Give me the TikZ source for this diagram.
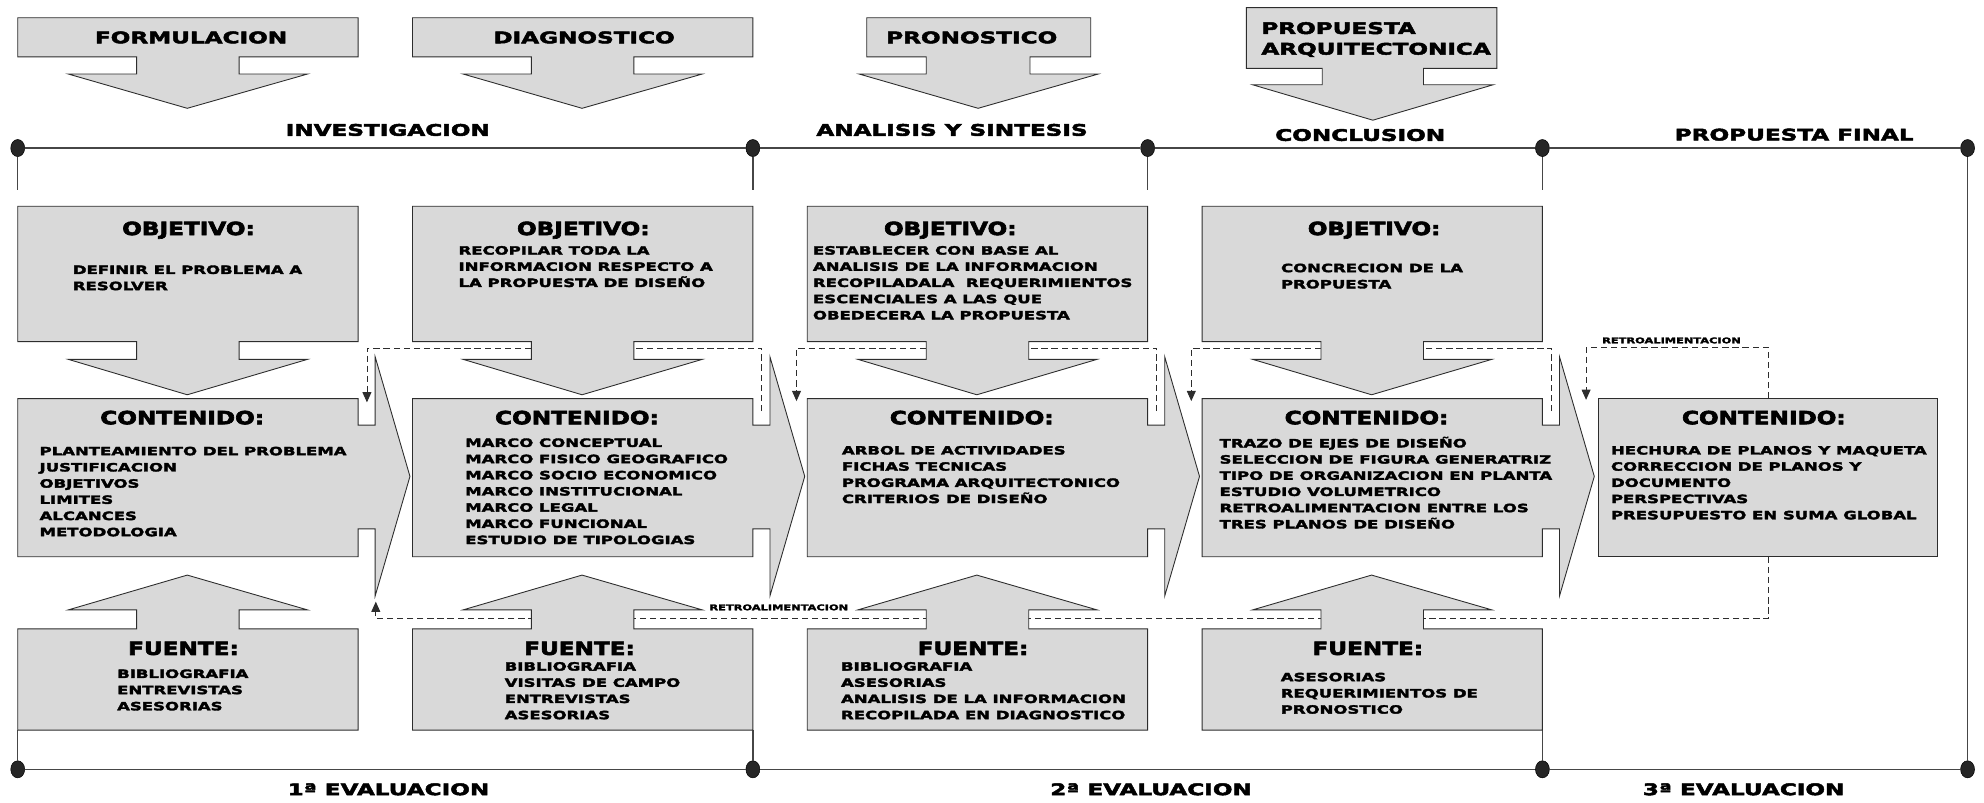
\documentclass[tikz,border=0pt]{standalone}
\usepackage{fontspec}
\usepackage{tikz}
\usetikzlibrary{calc, shapes.geometric, arrows.meta}

\newfontfamily\itemfont{DejaVu Sans Bold}[FakeStretch=1.45, FakeBold=3]
\newfontfamily\titlefont{DejaVu Sans Bold}[FakeStretch=1.27, FakeBold=3.5]
\definecolor{boxgray}{RGB}{217,217,217}
\definecolor{edge}{RGB}{45,45,45}
\definecolor{axisgray}{RGB}{70,70,70}

\begin{document}
\begin{tikzpicture}[x=1pt, y=-1pt,
        box/.style={fill=boxgray, draw=edge, line width=0.7pt},
        item/.style={anchor=north west, inner sep=0pt, align=left, font=\itemfont\fontsize{9}{12.8}\selectfont},
        head/.style={anchor=base, inner sep=0pt, font=\titlefont\fontsize{14.4}{16}\selectfont},
        phase/.style={anchor=base, inner sep=0pt, font=\itemfont\fontsize{12.6}{16.3}\selectfont},
        note/.style={anchor=base, inner sep=0pt, font=\itemfont\fontsize{6.2}{7}\selectfont},
        axis/.style={draw=axisgray, line width=1.1pt},
        dot/.style={ellipse, fill=black!85, draw=black, minimum width=11pt, minimum height=13.5pt, inner sep=0pt},
        feedback/.style={draw=edge, dash pattern=on 5pt off 3pt, line width=0.7pt, -{Triangle[length=8pt, width=7pt]}},
        ]
    \useasboundingbox (0,0) rectangle (1568,634);

    % feedback lines, under the boxes
    \coordinate (fbA) at (602,325);    \coordinate (inA) at (290,318);
    \coordinate (fbB) at (914,325);    \coordinate (inB) at (629.5,317);
    \coordinate (fbC) at (1226,325);   \coordinate (inC) at (941.5,317);
    \coordinate (fbD) at (1397.6,315); \coordinate (inD) at (1253.5,316);
    \coordinate (fbE) at (1397.6,440); \coordinate (inE) at (297,475.5);

    \draw [feedback] (fbA) -- ++(0,-50) -| (inA);
    \draw [feedback] (fbB) -- ++(0,-50) -| (inB);
    \draw [feedback] (fbC) -- ++(0,-50) -| (inC);
    \draw [feedback] (fbD) -- ++(0,-40.5) -| (inD);
    \draw [feedback] (fbE) -- ++(0,49) -| (inE);

    \node (retro1) at (1321,271.3) [note] {RETROALIMENTACION};
    \node (retro2) at (615.5,482.3) [note] {RETROALIMENTACION};

    % phase headers
    \draw [box, shift={(14,0)}] (0,14) -- (269,14) -- (269,45) -- (175,45) -- (175,58.5) -- (229,58.5) -- (134,85.6) -- (40,58.5) -- (94,58.5) -- (94,45) -- (0,45) -- cycle;
    \draw [box, shift={(326,0)}] (0,14) -- (269,14) -- (269,45) -- (175,45) -- (175,58.5) -- (229,58.5) -- (134,85.6) -- (40,58.5) -- (94,58.5) -- (94,45) -- (0,45) -- cycle;
    \draw [box] (685,14) -- (862,14) -- (862,45) -- (814,45) -- (814,58.5) -- (868,58.5) -- (773,85.6) -- (679,58.5) -- (732,58.5) -- (732,45) -- (685,45) -- cycle;
    \draw [box] (985,6) -- (1183,6) -- (1183,54) -- (1125,54) -- (1125,67) -- (1180,67) -- (1085,95) -- (990,67) -- (1045,67) -- (1045,54) -- (985,54) -- cycle;

    \node (formulacion) at (151,34.2) [phase] {FORMULACION};
    \node (diagnostico) at (461.6,34.2) [phase] {DIAGNOSTICO};
    \node (pronostico) at (768,34.2) [phase] {PRONOSTICO};
    \node (propuesta) at (996.7,17.3) [phase, anchor=north west, align=left] {PROPUESTA\\ARQUITECTONICA};

    % time line
    \node (T1) at (14,117) [dot] {};
    \node (T2) at (595,117) [dot] {};
    \node (T3) at (907,117) [dot] {};
    \node (T4) at (1219,117) [dot] {};
    \node (T5) at (1555,117) [dot] {};
    \node (B1) at (14,608) [dot] {};
    \node (B2) at (595,608) [dot] {};
    \node (B4) at (1219,608) [dot] {};
    \node (B5) at (1555,608) [dot] {};

    \draw [axis] (T1) -- (T2) -- (T3) -- (T4) -- (T5) -- (B5);
    \draw [axis] (B1) -- (B2) -- (B4) -- (B5);
    \draw [axis] (T1) -- ++(0,33);
    \draw [axis] (T2) -- ++(0,33);
    \draw [axis] (T3) -- ++(0,33);
    \draw [axis] (T4) -- ++(0,33);
    \draw [axis] (B1) -- ++(0,-31);
    \draw [axis] (B2) -- ++(0,-31);
    \draw [axis] (B4) -- ++(0,-31);

    \node (investigacion) at (306.5,107.3) [phase] {INVESTIGACION};
    \node (analisis) at (752.4,107.3) [phase] {ANALISIS Y SINTESIS};
    \node (conclusion) at (1075,111.3) [phase] {CONCLUSION};
    \node (final) at (1418,111) [phase] {PROPUESTA FINAL};
    \node (eval1) at (307,628.4) [phase] {1ª EVALUACION};
    \node (eval2) at (909.7,628.4) [phase] {2ª EVALUACION};
    \node (eval3) at (1378,628.4) [phase] {3ª EVALUACION};

    % objetivo boxes
    \draw [box, shift={(14,0)}] (0,163) -- (269,163) -- (269,270) -- (175,270) -- (175,284) -- (229,284) -- (134,312) -- (40,284) -- (94,284) -- (94,270) -- (0,270) -- cycle;
    \draw [box, shift={(326,0)}] (0,163) -- (269,163) -- (269,270) -- (175,270) -- (175,284) -- (229,284) -- (134,312) -- (40,284) -- (94,284) -- (94,270) -- (0,270) -- cycle;
    \draw [box, shift={(638,0)}] (0,163) -- (269,163) -- (269,270) -- (175,270) -- (175,284) -- (229,284) -- (134,312) -- (40,284) -- (94,284) -- (94,270) -- (0,270) -- cycle;
    \draw [box, shift={(950,0)}] (0,163) -- (269,163) -- (269,270) -- (175,270) -- (175,284) -- (229,284) -- (134,312) -- (40,284) -- (94,284) -- (94,270) -- (0,270) -- cycle;

    % contenido boxes
    \draw [box, shift={(14,0)}] (0,315) -- (269,315) -- (269,336) -- (282.5,336) -- (282.5,282) -- (310,376.5) -- (282.5,471) -- (282.5,418) -- (269,418) -- (269,440) -- (0,440) -- cycle;
    \draw [box, shift={(326,0)}] (0,315) -- (269,315) -- (269,336) -- (282.5,336) -- (282.5,282) -- (310,376.5) -- (282.5,471) -- (282.5,418) -- (269,418) -- (269,440) -- (0,440) -- cycle;
    \draw [box, shift={(638,0)}] (0,315) -- (269,315) -- (269,336) -- (282.5,336) -- (282.5,282) -- (310,376.5) -- (282.5,471) -- (282.5,418) -- (269,418) -- (269,440) -- (0,440) -- cycle;
    \draw [box, shift={(950,0)}] (0,315) -- (269,315) -- (269,336) -- (282.5,336) -- (282.5,282) -- (310,376.5) -- (282.5,471) -- (282.5,418) -- (269,418) -- (269,440) -- (0,440) -- cycle;
    \draw [box] (1263,315) rectangle (1531,440);

    % fuente boxes
    \draw [box, shift={(14,0)}] (0,497) -- (94,497) -- (94,482) -- (40,482) -- (134,454.5) -- (229,482) -- (175,482) -- (175,497) -- (269,497) -- (269,577) -- (0,577) -- cycle;
    \draw [box, shift={(326,0)}] (0,497) -- (94,497) -- (94,482) -- (40,482) -- (134,454.5) -- (229,482) -- (175,482) -- (175,497) -- (269,497) -- (269,577) -- (0,577) -- cycle;
    \draw [box, shift={(638,0)}] (0,497) -- (94,497) -- (94,482) -- (40,482) -- (134,454.5) -- (229,482) -- (175,482) -- (175,497) -- (269,497) -- (269,577) -- (0,577) -- cycle;
    \draw [box, shift={(950,0)}] (0,497) -- (94,497) -- (94,482) -- (40,482) -- (134,454.5) -- (229,482) -- (175,482) -- (175,497) -- (269,497) -- (269,577) -- (0,577) -- cycle;

    % texts
    \node (O1) at (149,185.8) [head] {OBJETIVO:};
    \node (O2) at (461,185.8) [head] {OBJETIVO:};
    \node (O3) at (751,185.8) [head] {OBJETIVO:};
    \node (O4) at (1086,185.8) [head] {OBJETIVO:};
    \node (obj1) at (57.4,209.6) [item] {DEFINIR EL PROBLEMA A\\RESOLVER};
    \node (obj2) at (362.2,194.3) [item] {RECOPILAR TODA LA\\INFORMACION RESPECTO A\\LA PROPUESTA DE DISEÑO};
    \node (obj3) at (642.3,194.3) [item] {ESTABLECER CON BASE AL\\ANALISIS DE LA INFORMACION\\RECOPILADALA\ \ REQUERIMIENTOS\\ESCENCIALES A LAS QUE\\OBEDECERA LA PROPUESTA};
    \node (obj4) at (1012.2,208.2) [item] {CONCRECION DE LA\\PROPUESTA};

    \node (C1) at (144,335.3) [head] {CONTENIDO:};
    \node (C2) at (456,335.3) [head] {CONTENIDO:};
    \node (C3) at (768,335.3) [head] {CONTENIDO:};
    \node (C4) at (1080,335.3) [head] {CONTENIDO:};
    \node (C5) at (1394,335.3) [head] {CONTENIDO:};
    \node (con1) at (31.1,352.9) [item] {PLANTEAMIENTO DEL PROBLEMA\\JUSTIFICACION\\OBJETIVOS\\LIMITES\\ALCANCES\\METODOLOGIA};
    \node (con2) at (367.5,346.3) [item] {MARCO CONCEPTUAL\\MARCO FISICO GEOGRAFICO\\MARCO SOCIO ECONOMICO\\MARCO INSTITUCIONAL\\MARCO LEGAL\\MARCO FUNCIONAL\\ESTUDIO DE TIPOLOGIAS};
    \node (con3) at (665.2,352.3) [item] {ARBOL DE ACTIVIDADES\\FICHAS TECNICAS\\PROGRAMA ARQUITECTONICO\\CRITERIOS DE DISEÑO};
    \node (con4) at (963.7,345) [item] {TRAZO DE EJES DE DISEÑO\\SELECCION DE FIGURA GENERATRIZ\\TIPO DE ORGANIZACION EN PLANTA\\ESTUDIO VOLUMETRICO\\RETROALIMENTACION ENTRE LOS\\TRES PLANOS DE DISEÑO};
    \node (con5) at (1273,352.3) [item] {HECHURA DE PLANOS Y MAQUETA\\CORRECCION DE PLANOS Y\\DOCUMENTO\\PERSPECTIVAS\\PRESUPUESTO EN SUMA GLOBAL};

    \node (F1) at (145,517.6) [head] {FUENTE:};
    \node (F2) at (458,517.6) [head] {FUENTE:};
    \node (F3) at (769,517.6) [head] {FUENTE:};
    \node (F4) at (1081,517.6) [head] {FUENTE:};
    \node (fue1) at (92.4,528.9) [item] {BIBLIOGRAFIA\\ENTREVISTAS\\ASESORIAS};
    \node (fue2) at (398.7,523.1) [item] {BIBLIOGRAFIA\\VISITAS DE CAMPO\\ENTREVISTAS\\ASESORIAS};
    \node (fue3) at (664.5,523.1) [item] {BIBLIOGRAFIA\\ASESORIAS\\ANALISIS DE LA INFORMACION\\RECOPILADA EN DIAGNOSTICO};
    \node (fue4) at (1012,531.5) [item] {ASESORIAS\\REQUERIMIENTOS DE\\PRONOSTICO};
\end{tikzpicture}
\end{document}
